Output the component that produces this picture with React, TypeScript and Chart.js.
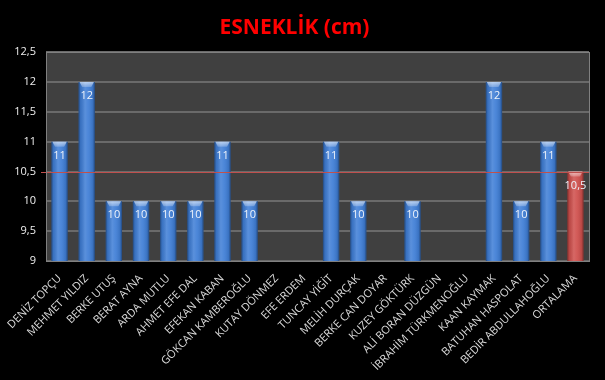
import React, { useEffect, useRef } from "react";
import { Chart, registerables } from "chart.js";

Chart.register(...registerables);

const TITLE = "ESNEKLİK (cm)";
const categories = [
  "DENİZ TOPÇU",
  "MEHMET YILDIZ",
  "BERKE UTUŞ",
  "BERAT AYNA",
  "ARDA MUTLU",
  "AHMET EFE DAL",
  "EFEKAN KABAN",
  "GÖKCAN KAMBEROĞLU",
  "KUTAY DÖNMEZ",
  "EFE ERDEM",
  "TUNCAY YİĞİT",
  "MELİH DURÇAK",
  "BERKE CAN DOYAR",
  "KUZEY GÖKTÜRK",
  "ALİ BORAN DÜZGÜN",
  "İBRAHİM TÜRKMENOĞLU",
  "KAAN KAYMAK",
  "BATUHAN HASPOLAT",
  "BEDİR ABDULLAHOĞLU",
  "ORTALAMA",
];
const values: (number | null)[] = [
  11, 12, 10, 10, 10, 10, 11, 10, null, null, 11, 10, null, 10, null, null, 12, 10, 11, 10.5,
];
const AVERAGE = 10.5;
const AVERAGE_LABEL = "ORTALAMA";
const Y_MIN = 9;
const Y_MAX = 12.5;
const Y_STEP = 0.5;

const fmt = (v: number) => String(v).replace(".", ",");

const BLUE = "#3f7ed6";
const RED = "#cf4f4c";

const bgPlugin = {
  id: "bgPlugin",
  beforeDraw(chart: any) {
    const { ctx, chartArea: a, width, height } = chart;
    ctx.save();
    ctx.fillStyle = "#000000";
    ctx.fillRect(0, 0, width, height);
    ctx.fillStyle = "#404040";
    ctx.fillRect(a.left, a.top, a.right - a.left, a.bottom - a.top);
    ctx.restore();
  },
};

const barDecorPlugin = {
  id: "barDecor",
  afterDatasetsDraw(chart: any) {
    const { ctx, chartArea: a } = chart;
    const meta = chart.getDatasetMeta(0);
    const data = chart.data.datasets[0].data as (number | null)[];
    const yScale = chart.scales.y;
    const bottom = yScale.getPixelForValue(Y_MIN);
    ctx.save();
    ctx.beginPath();
    ctx.rect(a.left, a.top, a.right - a.left, a.bottom - a.top);
    ctx.clip();
    meta.data.forEach((el: any, i: number) => {
      const v = data[i];
      if (v == null) return;
      const { x, y, width } = el.getProps(["x", "y", "width"], true);
      const left = x - width / 2;
      const right = x + width / 2;
      const h = bottom - y;
      // cylinder shading
      const g = ctx.createLinearGradient(left, 0, right, 0);
      g.addColorStop(0, "rgba(0,0,0,0.42)");
      g.addColorStop(0.12, "rgba(0,0,0,0.1)");
      g.addColorStop(0.4, "rgba(255,255,255,0.14)");
      g.addColorStop(0.6, "rgba(255,255,255,0.07)");
      g.addColorStop(0.88, "rgba(0,0,0,0.1)");
      g.addColorStop(1, "rgba(0,0,0,0.42)");
      ctx.fillStyle = g;
      ctx.fillRect(left, y, width, h);
      // top cap
      const cg = ctx.createLinearGradient(0, y, 0, y + 6);
      cg.addColorStop(0, "rgba(255,255,255,0.6)");
      cg.addColorStop(1, "rgba(255,255,255,0.15)");
      ctx.fillStyle = cg;
      ctx.beginPath();
      ctx.moveTo(left + 1, y);
      ctx.lineTo(right - 1, y);
      ctx.lineTo(right - width * 0.22, y + 5);
      ctx.lineTo(left + width * 0.22, y + 5);
      ctx.closePath();
      ctx.fill();
      // value label
      ctx.fillStyle = "#eef3fb";
      ctx.font = "11px 'Open Sans'";
      ctx.textAlign = "center";
      ctx.textBaseline = "middle";
      ctx.fillText(fmt(v), x, y + 14);
    });
    ctx.restore();
    ctx.save();
    // average line
    const ya = Math.round(yScale.getPixelForValue(AVERAGE)) + 0.5;
    ctx.strokeStyle = "#c0504d";
    ctx.lineWidth = 1;
    ctx.beginPath();
    ctx.moveTo(a.left - 5, ya);
    ctx.lineTo(a.right, ya);
    ctx.stroke();
    // frame
    ctx.strokeStyle = "#808080";
    ctx.lineWidth = 1;
    ctx.strokeRect(
      Math.round(a.left) + 0.5,
      Math.round(a.top) + 0.5,
      Math.round(a.right - a.left),
      Math.round(a.bottom - a.top)
    );
    ctx.restore();
  },
};

export default function App() {
  const ref = useRef<HTMLCanvasElement | null>(null);

  useEffect(() => {
    if (!ref.current) return;
    const colors = categories.map((c) => (c === AVERAGE_LABEL ? RED : BLUE));
    const chart = new Chart(ref.current, {
      type: "bar",
      data: {
        labels: categories,
        datasets: [
          {
            data: values,
            backgroundColor: colors,
            borderWidth: 0,
            barPercentage: 0.6,
            categoryPercentage: 1,
          },
        ],
      },
      options: {
        animation: false,
        responsive: false,
        maintainAspectRatio: false,
        layout: { padding: { left: 0, right: 16, top: 0, bottom: 0 } },
        plugins: {
          legend: { display: false },
          tooltip: { enabled: false },
          title: {
            display: true,
            text: TITLE,
            color: "#ff0000",
            font: { family: "'Open Sans'", size: 21, weight: "bold" },
            padding: { top: 15, bottom: 12 },
          },
        },
        scales: {
          x: {
            grid: { display: false, drawTicks: false },
            border: { display: false },
            ticks: {
              autoSkip: false,
              minRotation: 45,
              maxRotation: 45,
              padding: 11,
              color: "#d9d9d9",
              font: { family: "'Open Sans'", size: 11 },
            },
            afterFit(scale: any) {
              scale.paddingLeft = 0;
              scale.paddingRight = 0;
              scale.height = 119;
            },
          },
          y: {
            min: Y_MIN,
            max: Y_MAX,
            grid: { color: "#6a6a6a", lineWidth: 2, drawTicks: false },
            border: { display: false },
            ticks: {
              stepSize: Y_STEP,
              padding: 10,
              color: "#eeeeee",
              font: { family: "'Open Sans'", size: 11 },
              callback: (v: any) => fmt(Number(v)),
            },
            afterFit(scale: any) {
              scale.width = 46;
              scale.paddingTop = 0;
              scale.paddingBottom = 0;
            },
          },
        },
      },
      plugins: [bgPlugin, barDecorPlugin],
    });
    return () => chart.destroy();
  }, []);

  return (
    <div style={{ position: "fixed", left: 0, top: 0, width: 605, height: 380, background: "#000" }}>
      <canvas ref={ref} width={605} height={380} style={{ display: "block" }} />
    </div>
  );
}
